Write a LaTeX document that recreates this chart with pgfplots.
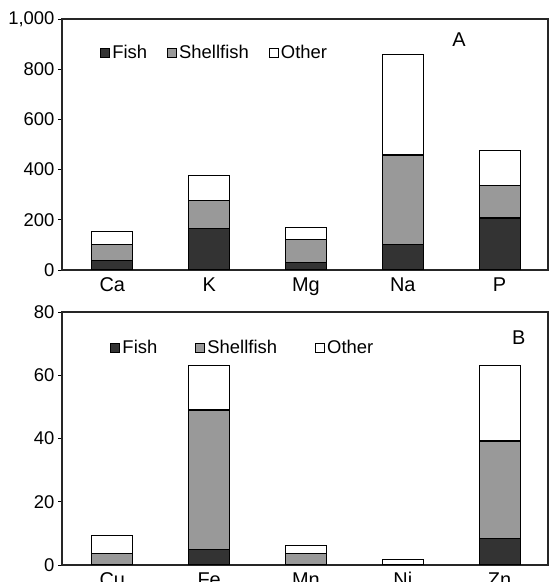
\documentclass[border=0pt]{standalone}
\usepackage{fontspec}
\setmainfont{Liberation Sans}
\usepackage{pgfplots}
\usepackage{pgfplotstable}
\pgfplotsset{compat=1.18}
\definecolor{fishc}{HTML}{333333}
\definecolor{shellc}{HTML}{999999}
\pgfplotstableread{
x fish shell other
0 38 62 55
1 165 113 100
2 30 90 51
3 100 358 400
4 207 128 140
}\topdata
\pgfplotstableread{
x fish shell other
0 0 3.5 5.7
1 5 44 14
2 0 3.5 2.8
3 0 0 1.6
4 8.5 30.7 23.8
}\botdata
\pgfplotsset{
  mystyle/.style={
    scale only axis, width=486bp,
    ybar stacked, bar width=41bp,
    xmin=-0.52, xmax=4.5,
    xtick={0,1,2,3,4}, major x tick style={draw=none},
    ytick pos=left, tick align=outside,
    major tick length=4bp,
    axis line style={line width=1.1bp, black!85},
    tick style={line width=0.8bp, black},
    ymin=0,
    yticklabel style={font=\fontsize{18.5}{20}\selectfont},
    xticklabel style={font=\fontsize{20}{22}\selectfont},
    /pgf/number format/assume math mode=true,
    /pgf/number format/1000 sep={,},
    legend cell align=left,
    legend image code/.code={\draw[##1,line width=1.1bp] (0bp,-4.5bp) rectangle (9bp,4.5bp);},
    every axis plot/.append style={draw=black, line width=1.1bp},
    legend style={draw=none, fill=none, font=\fontsize{18.5}{20}\selectfont, legend columns=3, anchor=west,
      nodes={inner xsep=2bp}},
  }
}
\begin{document}
\begin{tikzpicture}[x=1bp,y=1bp]
\path[use as bounding box] (0,0) rectangle (549,582);
\begin{axis}[mystyle, at={(62bp,312bp)}, anchor=south west, height=251bp,
  ymax=1000, ytick={0,200,400,600,800,1000},
  xticklabels={Ca,K,Mg,Na,P},
  legend style={at={(0.072,0.865)}, /tikz/every even column/.append style={column sep=18bp}}]
\addplot[fill=fishc] table[x=x,y=fish] {\topdata};
\addplot[fill=shellc] table[x=x,y=shell] {\topdata};
\addplot[fill=white] table[x=x,y=other] {\topdata};
\legend{Fish,Shellfish,Other}
\node[font=\fontsize{20}{22}\selectfont] at (rel axis cs:0.817,0.916) {A};
\end{axis}
\begin{axis}[mystyle, at={(62bp,17bp)}, anchor=south west, height=253bp,
  ymax=80, ytick={0,20,40,60,80},
  xticklabels={Cu,Fe,Mn,Ni,Zn},
  legend style={at={(0.093,0.858)}, /tikz/every even column/.append style={column sep=36bp}}]
\addplot[fill=fishc] table[x=x,y=fish] {\botdata};
\addplot[fill=shellc] table[x=x,y=shell] {\botdata};
\addplot[fill=white] table[x=x,y=other] {\botdata};
\legend{Fish,Shellfish,Other}
\node[font=\fontsize{20}{22}\selectfont] at (rel axis cs:0.94,0.90) {B};
\end{axis}
\end{tikzpicture}
\end{document}
